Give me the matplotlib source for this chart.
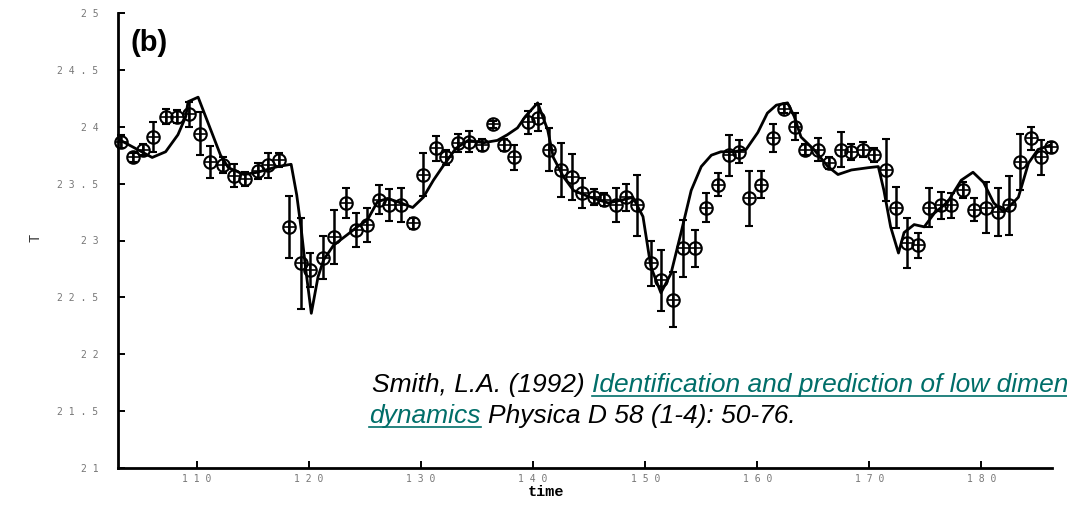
import matplotlib
matplotlib.use('Agg')
import matplotlib.pyplot as plt
from matplotlib.lines import Line2D

#==============================================================================
# Data read from the figure (b) : observed T with error bars, and model curve
#==============================================================================

time = [103.2, 104.25, 105.2, 106.1, 107.2, 108.2, 109.25, 110.3, 111.2, 112.3,
        113.3, 114.3, 115.4, 116.3, 117.3, 118.2, 119.25, 120.1, 121.2, 122.2,
        123.3, 124.2, 125.2, 126.2, 127.1, 128.2, 129.25, 130.2, 131.3, 132.2,
        133.3, 134.3, 135.4, 136.4, 137.4, 138.3, 139.5, 140.4, 141.4, 142.5,
        143.5, 144.4, 145.4, 146.3, 147.4, 148.3, 149.3, 150.5, 151.4, 152.5,
        153.4, 154.4, 155.4, 156.5, 157.5, 158.4, 159.3, 160.3, 161.4, 162.4,
        163.4, 164.3, 165.4, 166.4, 167.5, 168.4, 169.4, 170.4, 171.5, 172.4,
        173.4, 174.3, 175.3, 176.4, 177.3, 178.4, 179.3, 180.4, 181.5, 182.5,
        183.4, 184.4, 185.3, 186.2]

temp = [23.87, 23.73, 23.80, 23.91, 24.09, 24.09, 24.11, 23.94, 23.69, 23.66,
        23.57, 23.54, 23.61, 23.66, 23.71, 23.12, 22.80, 22.74, 22.85, 23.03,
        23.33, 23.09, 23.14, 23.36, 23.31, 23.31, 23.15, 23.58, 23.81, 23.73,
        23.86, 23.87, 23.84, 24.02, 23.84, 23.73, 24.04, 24.08, 23.80, 23.62,
        23.56, 23.42, 23.38, 23.36, 23.31, 23.38, 23.31, 22.80, 22.65, 22.48,
        22.93, 22.93, 23.29, 23.49, 23.75, 23.78, 23.37, 23.49, 23.90, 24.16,
        24.00, 23.80, 23.80, 23.68, 23.80, 23.78, 23.80, 23.75, 23.62, 23.29,
        22.98, 22.96, 23.29, 23.31, 23.31, 23.44, 23.27, 23.29, 23.25, 23.31,
        23.69, 23.90, 23.73, 23.82]

err = [0.06, 0.04, 0.05, 0.13, 0.07, 0.06, 0.11, 0.19, 0.14, 0.07,
       0.10, 0.06, 0.07, 0.11, 0.06, 0.27, 0.40, 0.15, 0.19, 0.24,
       0.13, 0.15, 0.15, 0.13, 0.14, 0.15, 0.05, 0.19, 0.11, 0.07,
       0.08, 0.09, 0.05, 0.03, 0.05, 0.11, 0.10, 0.12, 0.19, 0.24,
       0.20, 0.13, 0.07, 0.06, 0.15, 0.12, 0.27, 0.20, 0.27, 0.24,
       0.25, 0.16, 0.13, 0.10, 0.18, 0.10, 0.24, 0.12, 0.12, 0.04,
       0.12, 0.05, 0.10, 0.05, 0.15, 0.07, 0.07, 0.06, 0.27, 0.18,
       0.22, 0.11, 0.17, 0.12, 0.11, 0.07, 0.10, 0.22, 0.21, 0.26,
       0.25, 0.10, 0.15, 0.05]

model_t = [103.0, 106.0, 107.2, 108.3, 109.0, 109.2, 110.1, 112.1, 112.8, 114.2,
           115.4, 117.2, 118.4, 118.9, 119.3, 119.7, 120.2, 120.8, 121.3, 122.2,
           123.4, 124.3, 125.2, 126.1, 127.0, 128.2, 129.25, 130.2, 131.1, 132.0,
           133.1, 134.2, 135.6, 136.8, 137.7, 138.6, 139.3, 140.4, 141.3, 141.8,
           142.7, 143.6, 145.1, 146.7, 148.1, 148.9, 149.8, 150.5, 151.4, 152.3,
           153.2, 154.1, 155.0, 155.9, 156.75, 157.9, 159.0, 160.05, 160.9, 161.7,
           162.7, 163.3, 163.9, 165.05, 166.3, 167.2, 168.4, 169.9, 170.8, 171.3,
           171.9, 172.6, 173.1, 174.0, 174.9, 175.8, 177.0, 178.2, 179.25, 180.2,
           181.1, 182.0, 183.3, 184.2, 185.05, 186.2]

model_T = [23.89, 23.73, 23.78, 23.93, 24.09, 24.22, 24.26, 23.75, 23.64, 23.58,
           23.60, 23.65, 23.67, 23.40, 23.10, 22.75, 22.36, 22.68, 22.83, 22.96,
           23.05, 23.12, 23.18, 23.34, 23.37, 23.33, 23.29, 23.38, 23.53, 23.66,
           23.81, 23.88, 23.86, 23.88, 23.93, 23.99, 24.09, 24.21, 23.97, 23.73,
           23.56, 23.44, 23.38, 23.33, 23.36, 23.38, 23.21, 22.77, 22.54, 22.71,
           23.07, 23.44, 23.65, 23.75, 23.78, 23.78, 23.80, 23.95, 24.12, 24.19,
           24.21, 24.09, 23.91, 23.80, 23.65, 23.58, 23.62, 23.64, 23.65, 23.44,
           23.12, 22.89, 23.07, 23.14, 23.12, 23.24, 23.34, 23.53, 23.60, 23.51,
           23.33, 23.25, 23.38, 23.68, 23.80, 23.84]

xticks = [110, 120, 130, 140, 150, 160, 170, 180]
yticks = [21, 21.5, 22, 22.5, 23, 23.5, 24, 24.5, 25]
ytick_labels = ['21', '21.5', '22', '22.5', '23', '23.5', '24', '24.5', '25']

citation_1 = [("Smith, L.A. (1992)", False), ("Identification and prediction of low dimensional", True)]
citation_2 = [("dynamics", True), ("Physica D 58 (1-4): 50-76.", False)]

W, H = 1067, 505
TEAL = '#006e69'


def spaced(s):
    # the scanned labels have their digits spread out
    return ' '.join(s)


fig = plt.figure(figsize=(W / 100, H / 100), dpi=100)
ax = fig.add_axes([118 / W, 37 / H, (1052 - 118) / W, (468 - 13) / H])

ax.errorbar(time, temp, yerr=err, fmt='o', mfc='none', mec='black', ms=9, mew=1.5,
            ecolor='black', elinewidth=1.8, capsize=3.2, capthick=1.8, clip_on=False, zorder=3)
ax.plot(time, temp, '+', color='black', ms=8, mew=1.2, clip_on=False, zorder=4)
ax.plot(model_t, model_T, color='black', lw=2.0, zorder=2)

ax.set_xlim(102.95, 186.3)
ax.set_ylim(21, 25)
for side in ['top', 'right']:
    ax.spines[side].set_visible(False)
for side in ['left', 'bottom']:
    ax.spines[side].set_linewidth(2.0)

ax.set_xticks(xticks)
ax.set_xticklabels([spaced(str(v)) for v in xticks])
ax.set_yticks(yticks)
ax.set_yticklabels([spaced(s) for s in ytick_labels])
ax.tick_params(direction='in', length=5, width=1.4, colors='black')
ax.tick_params(axis='y', pad=14)
ax.tick_params(axis='x', pad=4)
for lab in ax.get_xticklabels() + ax.get_yticklabels():
    lab.set_family('DejaVu Sans Mono')
    lab.set_fontsize(7)
    lab.set_color('#777777')

ax.text(0.013, 0.934, '(b)', transform=ax.transAxes, fontsize=21, fontweight='bold',
        family='Liberation Sans', va='center', ha='left')

fig.text(35 / W, 1 - 238 / H, 'T', rotation=90, family='Liberation Mono', fontsize=10,
         color='#333333', ha='center', va='center')
fig.text(546 / W, 1 - 492 / H, 'time', family='Liberation Mono', fontweight='bold',
         fontsize=11, ha='center', va='center')

#==============================================================================
# Citation text, with underlined (link) pieces
#==============================================================================

renderer = fig.canvas.get_renderer()
FS = 19


def width_of(s):
    t = fig.text(0, 0, s, fontsize=FS, style='italic', family='Liberation Sans')
    w = t.get_window_extent(renderer).width
    t.remove()
    return w


space = width_of('n n') - width_of('nn')


def write_line(pieces, x, y):
    for s, link in pieces:
        color = TEAL if link else 'black'
        t = fig.text(x / W, 1 - y / H, s, fontsize=FS, style='italic', family='Liberation Sans',
                     color=color, va='baseline', ha='left')
        bb = t.get_window_extent(renderer)
        if link:
            uy = (H - y - 4) / H
            fig.add_artist(Line2D([bb.x0 / W, bb.x1 / W], [uy, uy], transform=fig.transFigure,
                                  color=TEAL, lw=1.2))
        x = bb.x1 + space


write_line(citation_1, 372, 392)
write_line(citation_2, 369, 423)

fig.savefig('out.png', dpi=100)
